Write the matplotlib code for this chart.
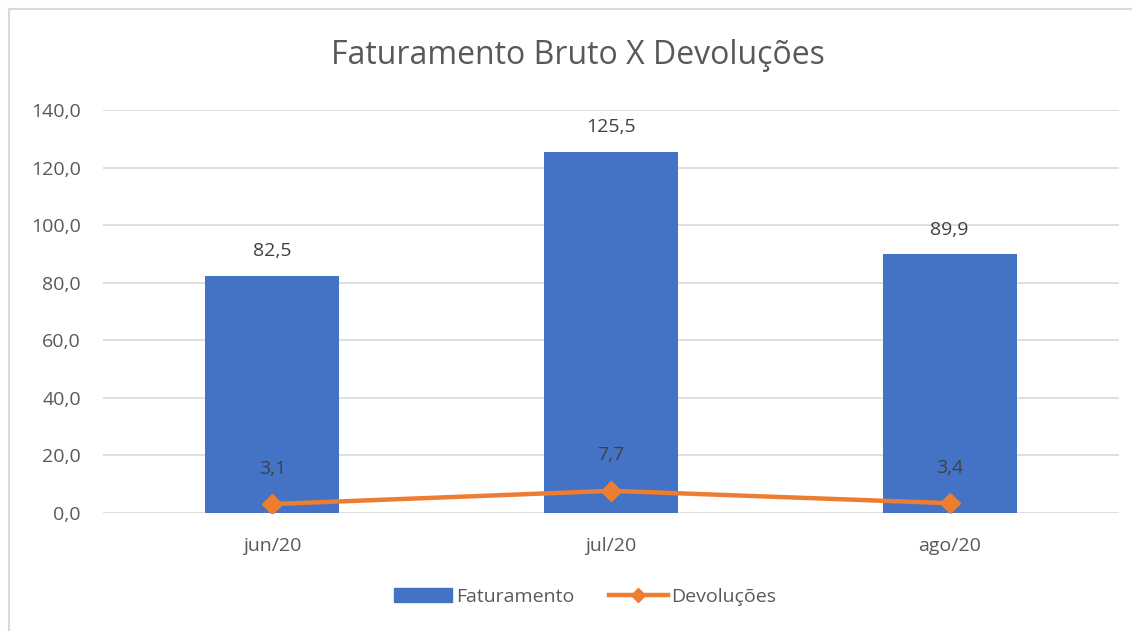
import matplotlib
matplotlib.use("Agg")
import matplotlib.pyplot as plt
from matplotlib.patches import Rectangle
from matplotlib.lines import Line2D
from matplotlib.ticker import FuncFormatter

categories = ["jun/20", "jul/20", "ago/20"]
faturamento = [82.5, 125.5, 89.9]
devolucoes = [3.1, 7.7, 3.4]
yticks = [0, 20, 40, 60, 80, 100, 120, 140]

W, H = 1132, 631
fig = plt.figure(figsize=(W / 100, H / 100), dpi=100)
plt.rcParams['font.family'] = ['Open Sans', 'DejaVu Sans']

ax = fig.add_axes([103 / W, 1 - 513 / H, (1119 - 103) / W, (513 - 110) / H])

x = list(range(len(categories)))
ax.bar(x, faturamento, width=0.395, color="#4472C4", zorder=2, label="Faturamento")
ax.plot(x, devolucoes, color="#ED7D31", lw=3.2, marker="D", ms=10, zorder=3,
        label="Devoluções", solid_capstyle="round")

for xi, v in zip(x, faturamento):
    ax.annotate(f"{v:.1f}".replace(".", ","), (xi, v), xytext=(0, 11), textcoords="offset points",
                ha="center", va="bottom", fontsize=14, color="#404040")
for xi, v in zip(x, devolucoes):
    ax.annotate(f"{v:.1f}".replace(".", ","), (xi, v), xytext=(0, 19), textcoords="offset points",
                ha="center", va="bottom", fontsize=14, color="#404040")

ax.set_xlim(-0.5, 2.5)
ax.set_ylim(0, 140)
ax.set_yticks(yticks)
ax.yaxis.set_major_formatter(FuncFormatter(lambda v, p: f"{v:.1f}".replace(".", ",")))
ax.set_xticks(x)
ax.set_xticklabels(categories)
ax.tick_params(axis="both", length=0, labelsize=14, labelcolor="#595959")
ax.tick_params(axis="y", pad=16)
ax.tick_params(axis="x", pad=17)
ax.grid(axis="y", color="#D9D9D9", lw=1.2, zorder=0)
ax.set_axisbelow(True)
for s in ax.spines.values():
    s.set_visible(False)

fig.text(578 / W, 1 - 55 / H, "Faturamento Bruto X Devoluções", ha="center", va="center",
         fontsize=23, color="#595959")

handles = [Rectangle((0, 0), 1, 1, color="#4472C4"),
           Line2D([0], [0], color="#ED7D31", lw=3.2, marker="D", ms=7)]
fig.legend(handles, ["Faturamento", "Devoluções"], loc="center", bbox_to_anchor=(585 / W, 1 - 597 / H),
           ncol=2, frameon=False, fontsize=14, labelcolor="#595959", handlelength=3.0,
           handletextpad=0.2, columnspacing=1.8)

fig.add_artist(Rectangle((9 / W, -0.1), 1.2, 1 - 9 / H + 0.1, transform=fig.transFigure,
                         fill=False, edgecolor="#D9D9D9", lw=1.5))

fig.savefig("out.png", dpi=100, facecolor="white")
